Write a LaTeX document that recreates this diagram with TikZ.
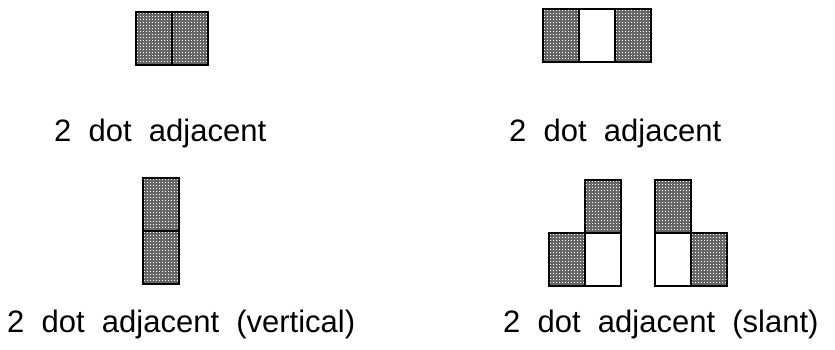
\documentclass[tikz,border=0pt]{standalone}
\usepackage{fontspec}
\setmainfont{Liberation Sans}
\usepackage{tikz}
\tikzset{
  cell/.style={
    draw=black,
    line width=1.5pt,
    inner sep=0pt,
    outer sep=0pt,
    anchor=north west,
    minimum width=36pt,
    minimum height=53pt,
  },
  dotcell/.style={
    cell,
    fill=black!60,
    path picture={
      \foreach \i in {0,...,12}
        \foreach \j in {0,...,18}
          \fill[white] ([xshift={3pt*\i+1pt},yshift={-3pt*\j-1pt}]path picture bounding box.north west)
            rectangle +(1.2pt,-1.2pt);
    },
  },
  emptycell/.style={
    cell,
    fill=white,
  },
  caption/.style={
    anchor=base west,
    inner sep=0pt,
    font=\fontsize{31}{37}\selectfont,
  },
}
\begin{document}
\begin{tikzpicture}[x=1pt,y=-1pt]
    \useasboundingbox (0,0) rectangle (835,349);
    % two cells side by side
    \node[dotcell] (hl) at (136,12) {};
    \node[dotcell] (hr) at (172,12) {};
    \node[caption] (hcap) at (54,141) {2~~dot~~adjacent};
    % one gap cell between
    \node[dotcell] (gl) at (543,9) {};
    \node[emptycell] (gm) at (579,9) {};
    \node[dotcell] (gr) at (615,9) {};
    \node[caption] (gcap) at (509,141) {2~~dot~~adjacent};
    % stacked
    \node[dotcell] (vt) at (143,178) {};
    \node[dotcell] (vb) at (143,231) {};
    \node[caption] (vcap) at (7,332) {2~~dot~~adjacent~~(vertical)};
    % slant, left pair
    \node[dotcell] (sat) at (585,180) {};
    \node[dotcell] (sal) at (549,233) {};
    \node[emptycell] (sar) at (585,233) {};
    % slant, right pair
    \node[dotcell] (sbt) at (655,180) {};
    \node[emptycell] (sbl) at (655,233) {};
    \node[dotcell] (sbr) at (691,233) {};
    \node[caption] (scap) at (503,332) {2~~dot~~adjacent~~(slant)};
  \end{tikzpicture}
\end{document}
